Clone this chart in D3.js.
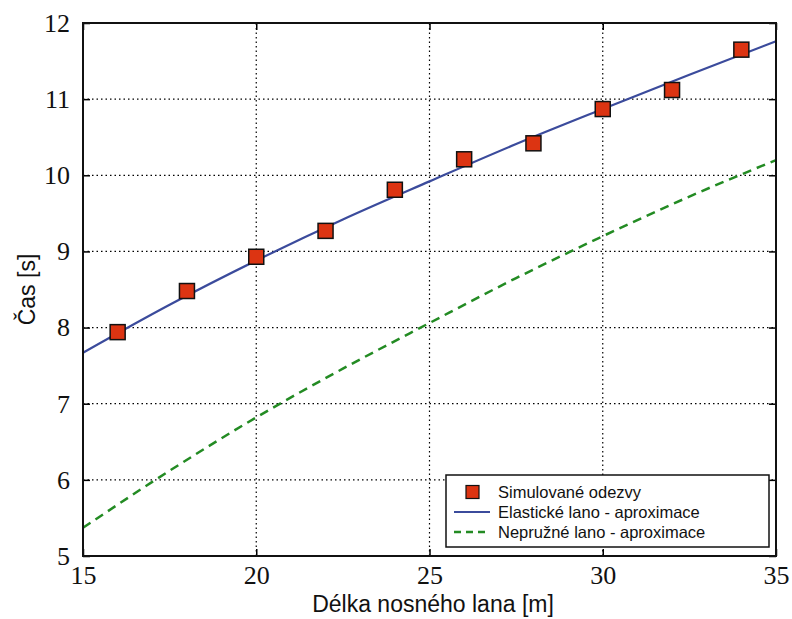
<!DOCTYPE html>
<html lang="cs">
<head>
<meta charset="UTF-8">
<title>Čas vs délka lana</title>
<script src="https://d3js.org/d3.v7.min.js"></script>
<style>
    body { margin: 0; background: #fff; }
    .lbl { font-family: "Liberation Sans", Arial, sans-serif; font-size: 23px; fill: #111; }
    .leg { font-family: "Liberation Sans", Arial, sans-serif; font-size: 16.5px; fill: #111; }
</style>
</head>
<body>
<div id="chart"></div>
<script>
// simulated points
const simX = [16, 18, 20, 22, 24, 26, 28, 30, 32, 34];
const simY = [7.94, 8.48, 8.93, 9.27, 9.81, 10.21, 10.42, 10.87, 11.12, 11.65];

// approximation curves
const curveX = [15, 17.5, 20, 22.5, 25, 27.5, 30, 32.5, 35];
const elasticY = [7.67, 8.30, 8.88, 9.42, 9.92, 10.41, 10.87, 11.32, 11.76];
const inelasticY = [5.37, 6.12, 6.82, 7.46, 8.06, 8.65, 9.20, 9.72, 10.20];

const xTicks = [15, 20, 25, 30, 35];
const yTicks = [5, 6, 7, 8, 9, 10, 11, 12];

const width = 792, height = 619;
const margin = { left: 83, right: 16, top: 23, bottom: 63 };

const svg = d3.select("#chart").append("svg")
    .attr("width", width)
    .attr("height", height);

const x = d3.scaleLinear().domain([15, 35]).range([margin.left, width - margin.right]);
const y = d3.scaleLinear().domain([5, 12]).range([height - margin.bottom, margin.top]);

// grid
svg.append("g").selectAll("line.gx")
    .data(xTicks.slice(1, -1))
    .join("line")
    .attr("x1", d => x(d)).attr("x2", d => x(d))
    .attr("y1", y(5)).attr("y2", y(12))
    .attr("stroke", "#000").attr("stroke-width", 1.2)
    .attr("stroke-dasharray", "1.5,3");

svg.append("g").selectAll("line.gy")
    .data(yTicks.slice(1, -1))
    .join("line")
    .attr("x1", x(15)).attr("x2", x(35))
    .attr("y1", d => y(d)).attr("y2", d => y(d))
    .attr("stroke", "#000").attr("stroke-width", 1.2)
    .attr("stroke-dasharray", "1.5,3");

// axes (ticks pointing inward)
const tl = 7;
const fmt = d3.format("d");
svg.append("g")
    .attr("transform", `translate(0,${y(5)})`)
    .call(d3.axisBottom(x).tickValues(xTicks).tickSize(-tl).tickPadding(10).tickFormat(fmt))
    .call(g => g.select(".domain").remove());
svg.append("g")
    .attr("transform", `translate(0,${y(12)})`)
    .call(d3.axisTop(x).tickValues(xTicks).tickSize(-tl).tickFormat(""))
    .call(g => g.select(".domain").remove());
svg.append("g")
    .attr("transform", `translate(${x(15)},0)`)
    .call(d3.axisLeft(y).tickValues(yTicks).tickSize(-tl).tickPadding(13).tickFormat(fmt))
    .call(g => g.select(".domain").remove());
svg.append("g")
    .attr("transform", `translate(${x(35)},0)`)
    .call(d3.axisRight(y).tickValues(yTicks).tickSize(-tl).tickFormat(""))
    .call(g => g.select(".domain").remove());
svg.selectAll(".tick line").attr("stroke", "#000").attr("stroke-width", 1.5);
svg.selectAll(".tick text")
    .style("font-family", "'Liberation Serif'")
    .style("font-size", "26px")
    .style("fill", "#111");

// lines
const line = d3.line().x(d => x(d[0])).y(d => y(d[1])).curve(d3.curveMonotoneX);

svg.append("path")
    .datum(curveX.map((v, i) => [v, inelasticY[i]]))
    .attr("d", line)
    .attr("fill", "none")
    .attr("stroke", "#238b23")
    .attr("stroke-width", 2.5)
    .attr("stroke-dasharray", "9,6");

svg.append("path")
    .datum(curveX.map((v, i) => [v, elasticY[i]]))
    .attr("d", line)
    .attr("fill", "none")
    .attr("stroke", "#3b4b9c")
    .attr("stroke-width", 2.2);

// markers
const ms = 15;
svg.append("g").selectAll("rect")
    .data(simX.map((v, i) => [v, simY[i]]))
    .join("rect")
    .attr("x", d => x(d[0]) - ms / 2)
    .attr("y", d => y(d[1]) - ms / 2)
    .attr("width", ms).attr("height", ms)
    .attr("fill", "#dc3412")
    .attr("stroke", "#111")
    .attr("stroke-width", 1.5);

// frame
svg.append("rect")
    .attr("x", x(15)).attr("y", y(12))
    .attr("width", x(35) - x(15)).attr("height", y(5) - y(12))
    .attr("fill", "none").attr("stroke", "#111").attr("stroke-width", 2);

// axis labels
svg.append("text").attr("class", "lbl")
    .attr("x", 433).attr("y", 612)
    .attr("text-anchor", "middle")
    .text("Délka nosného lana [m]");
svg.append("text").attr("class", "lbl")
    .attr("transform", `translate(35,${(y(5) + y(12)) / 2}) rotate(-90)`)
    .attr("text-anchor", "middle")
    .text("Čas [s]");

// legend
const lg = svg.append("g").attr("transform", "translate(446,475)");
lg.append("rect").attr("width", 323).attr("height", 72)
    .attr("fill", "#fff").attr("stroke", "#111").attr("stroke-width", 1.5);
const rows = [17, 37, 57];
lg.append("rect").attr("x", 20).attr("y", rows[0] - 6.5).attr("width", 13).attr("height", 13)
    .attr("fill", "#dc3412").attr("stroke", "#111").attr("stroke-width", 1.2);
lg.append("line").attr("x1", 8).attr("x2", 44).attr("y1", rows[1]).attr("y2", rows[1])
    .attr("stroke", "#3b4b9c").attr("stroke-width", 2);
lg.append("line").attr("x1", 8).attr("x2", 44).attr("y1", rows[2]).attr("y2", rows[2])
    .attr("stroke", "#238b23").attr("stroke-width", 2.5).attr("stroke-dasharray", "7,5");
const names = ["Simulované odezvy", "Elastické lano - aproximace", "Nepružné lano - aproximace"];
lg.selectAll("text.leg").data(names).join("text")
    .attr("class", "leg")
    .attr("x", 52).attr("y", (d, i) => rows[i] + 6)
    .text(d => d);
</script>
</body>
</html>
